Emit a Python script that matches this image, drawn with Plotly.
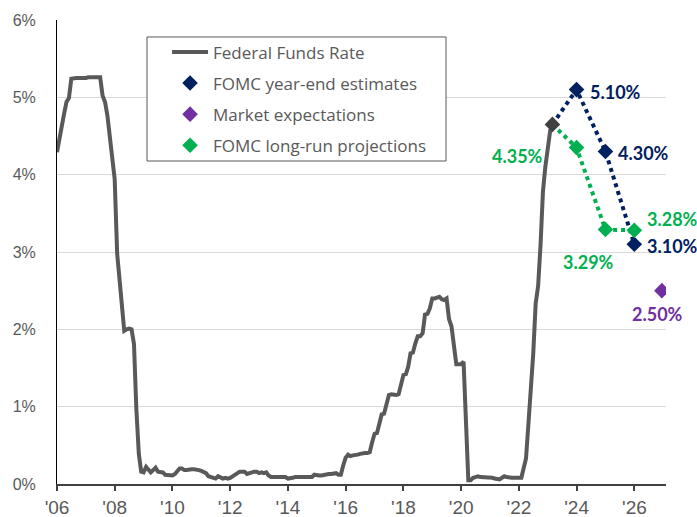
import pandas as pd
import plotly.graph_objects as go

# Effective federal funds rate, monthly averages (%), Jan 2006 - Mar 2023
fed_funds = [
    4.29, 4.49, 4.59, 4.79, 4.94, 4.99, 5.24, 5.25, 5.25, 5.25, 5.25, 5.24,  # 2006
    5.25, 5.26, 5.26, 5.25, 5.25, 5.25, 5.26, 5.02, 4.94, 4.76, 4.49, 4.24,  # 2007
    3.94, 2.98, 2.61, 2.28, 1.98, 2.00, 2.01, 2.00, 1.81, 0.97, 0.39, 0.16,  # 2008
    0.15, 0.22, 0.18, 0.15, 0.18, 0.21, 0.16, 0.16, 0.15, 0.12, 0.12, 0.12,  # 2009
    0.11, 0.13, 0.16, 0.20, 0.20, 0.18, 0.18, 0.19, 0.19, 0.19, 0.19, 0.18,  # 2010
    0.17, 0.16, 0.14, 0.10, 0.09, 0.09, 0.07, 0.10, 0.08, 0.07, 0.08, 0.07,  # 2011
    0.08, 0.10, 0.13, 0.14, 0.16, 0.16, 0.16, 0.13, 0.14, 0.16, 0.16, 0.16,  # 2012
    0.14, 0.15, 0.14, 0.15, 0.11, 0.09, 0.09, 0.08, 0.08, 0.09, 0.08, 0.09,  # 2013
    0.07, 0.07, 0.08, 0.09, 0.09, 0.10, 0.09, 0.09, 0.09, 0.09, 0.09, 0.12,  # 2014
    0.11, 0.11, 0.11, 0.12, 0.12, 0.13, 0.13, 0.14, 0.14, 0.12, 0.12, 0.24,  # 2015
    0.34, 0.38, 0.36, 0.37, 0.37, 0.38, 0.39, 0.40, 0.40, 0.40, 0.41, 0.54,  # 2016
    0.65, 0.66, 0.79, 0.90, 0.91, 1.04, 1.15, 1.16, 1.15, 1.15, 1.16, 1.30,  # 2017
    1.41, 1.42, 1.51, 1.69, 1.70, 1.82, 1.91, 1.91, 1.95, 2.19, 2.20, 2.27,  # 2018
    2.40, 2.40, 2.41, 2.42, 2.39, 2.38, 2.40, 2.13, 2.04, 1.83, 1.55, 1.55,  # 2019
    1.55, 1.58, 0.65, 0.05, 0.05, 0.08, 0.09, 0.10, 0.09, 0.09, 0.09, 0.09,  # 2020
    0.09, 0.08, 0.07, 0.07, 0.06, 0.08, 0.10, 0.09, 0.08, 0.08, 0.08, 0.08,  # 2021
    0.08, 0.08, 0.20, 0.33, 0.77, 1.21, 1.68, 2.33, 2.56, 3.08, 3.78, 4.10,  # 2022
    4.33, 4.57, 4.65,                                                        # 2023
]
fed_dates = pd.date_range("2006-01-01", periods=len(fed_funds), freq="MS")

# Projection points (plotted at year end)
proj_dates = ["2023-12-31", "2024-12-31", "2025-12-31"]
fomc_year_end = [5.10, 4.30, 3.10]
long_run_proj = [4.35, 3.29, 3.28]
market_date = ["2026-12-15"]
market_exp = [2.50]

tick_years = list(range(2006, 2027, 2))
tick_vals = [f"{y}-01-01" for y in tick_years]
tick_text = [f"'{y % 100:02d}" for y in tick_years]
y_ticks = [0, 1, 2, 3, 4, 5, 6]
y_text = [f"{v}%" for v in y_ticks]

GRAY = "#595959"
NAVY = "#002060"
GREEN = "#00B050"
PURPLE = "#7030A0"
START = "#404040"

start_x = fed_dates[-1]
start_y = fed_funds[-1]

fig = go.Figure()

# dotted connectors from the latest observation
fig.add_trace(go.Scatter(
    x=[start_x] + proj_dates, y=[start_y] + fomc_year_end, mode="lines",
    line=dict(color=NAVY, width=4, dash="dot"), showlegend=False, hoverinfo="skip"))
fig.add_trace(go.Scatter(
    x=[start_x] + proj_dates, y=[start_y] + long_run_proj, mode="lines",
    line=dict(color=GREEN, width=4, dash="dot"), showlegend=False, hoverinfo="skip"))

fig.add_trace(go.Scatter(
    x=fed_dates, y=fed_funds, mode="lines", name="Federal Funds Rate",
    line=dict(color=GRAY, width=4), legendgroup="a"))
fig.add_trace(go.Scatter(
    x=proj_dates, y=fomc_year_end, mode="markers", name="FOMC year-end estimates",
    marker=dict(symbol="diamond", color=NAVY, size=12), legendgroup="b"))
fig.add_trace(go.Scatter(
    x=market_date, y=market_exp, mode="markers", name="Market expectations",
    marker=dict(symbol="diamond", color=PURPLE, size=12), legendgroup="c"))
fig.add_trace(go.Scatter(
    x=proj_dates, y=long_run_proj, mode="markers", name="FOMC long-run projections",
    marker=dict(symbol="diamond", color=GREEN, size=12), legendgroup="d"))
fig.add_trace(go.Scatter(
    x=[start_x], y=[start_y], mode="markers", showlegend=False,
    marker=dict(symbol="diamond", color=START, size=12)))

label_font = dict(family="Lato, Open Sans, sans-serif", size=18)


def pct(v):
    return f"{v:.2f}%"


# value labels
for d, v in zip(proj_dates, fomc_year_end):
    fig.add_annotation(x=d, y=v, text=f"<b>{pct(v)}</b>", showarrow=False,
                       xanchor="left", yanchor="middle", xshift=11, yshift=-2,
                       font=dict(color=NAVY, **label_font))
lr_offsets = [(-32, -8, "right"), (-17, -32, "center"), (11, 11, "left")]
for d, v, (dx, dy, anc) in zip(proj_dates, long_run_proj, lr_offsets):
    fig.add_annotation(x=d, y=v, text=f"<b>{pct(v)}</b>", showarrow=False,
                       xanchor=anc, yanchor="middle", xshift=dx, yshift=dy,
                       font=dict(color=GREEN, **label_font))
fig.add_annotation(x=market_date[0], y=market_exp[0], text=f"<b>{pct(market_exp[0])}</b>",
                   showarrow=False, xanchor="center", yanchor="middle",
                   xshift=-4, yshift=-23, font=dict(color=PURPLE, **label_font))

# frame around the legend
fig.add_shape(type="rect", xref="paper", yref="paper",
              x0=0.1478, x1=0.6388, y0=0.6961, y1=0.9634,
              line=dict(color=GRAY, width=1), fillcolor="white", layer="above")

fig.update_layout(
    width=697, height=517,
    margin=dict(l=57, r=31, t=20, b=33),
    paper_bgcolor="white", plot_bgcolor="white",
    showlegend=True,
    legend=dict(
        x=0.1807, y=0.969, xanchor="left", yanchor="top",
        borderwidth=0, bgcolor="rgba(0,0,0,0)",
        font=dict(family="Open Sans, sans-serif", size=17, color=GRAY),
        traceorder="grouped", tracegroupgap=6, itemwidth=36,
    ),
    xaxis=dict(
        type="date", range=["2006-01-01", "2027-02-05"],
        tickmode="array", tickvals=tick_vals, ticktext=tick_text,
        showgrid=False, showline=True, linecolor=START, linewidth=1.5,
        ticks="outside", ticklen=5, tickcolor=START, tickwidth=1.5,
        tickfont=dict(family="Liberation Sans, Arial, sans-serif", size=19, color=GRAY),
        zeroline=False, automargin=False,
    ),
    yaxis=dict(
        range=[0, 6], tickmode="array", tickvals=y_ticks, ticktext=y_text,
        showgrid=True, gridcolor="#D9D9D9", gridwidth=1,
        showline=True, linecolor="black", linewidth=1,
        ticks="", ticklabelstandoff=17,
        tickfont=dict(family="Liberation Sans, Arial, sans-serif", size=16, color=GRAY),
        zeroline=False, automargin=False,
    ),
)

fig.write_html("out.html")
